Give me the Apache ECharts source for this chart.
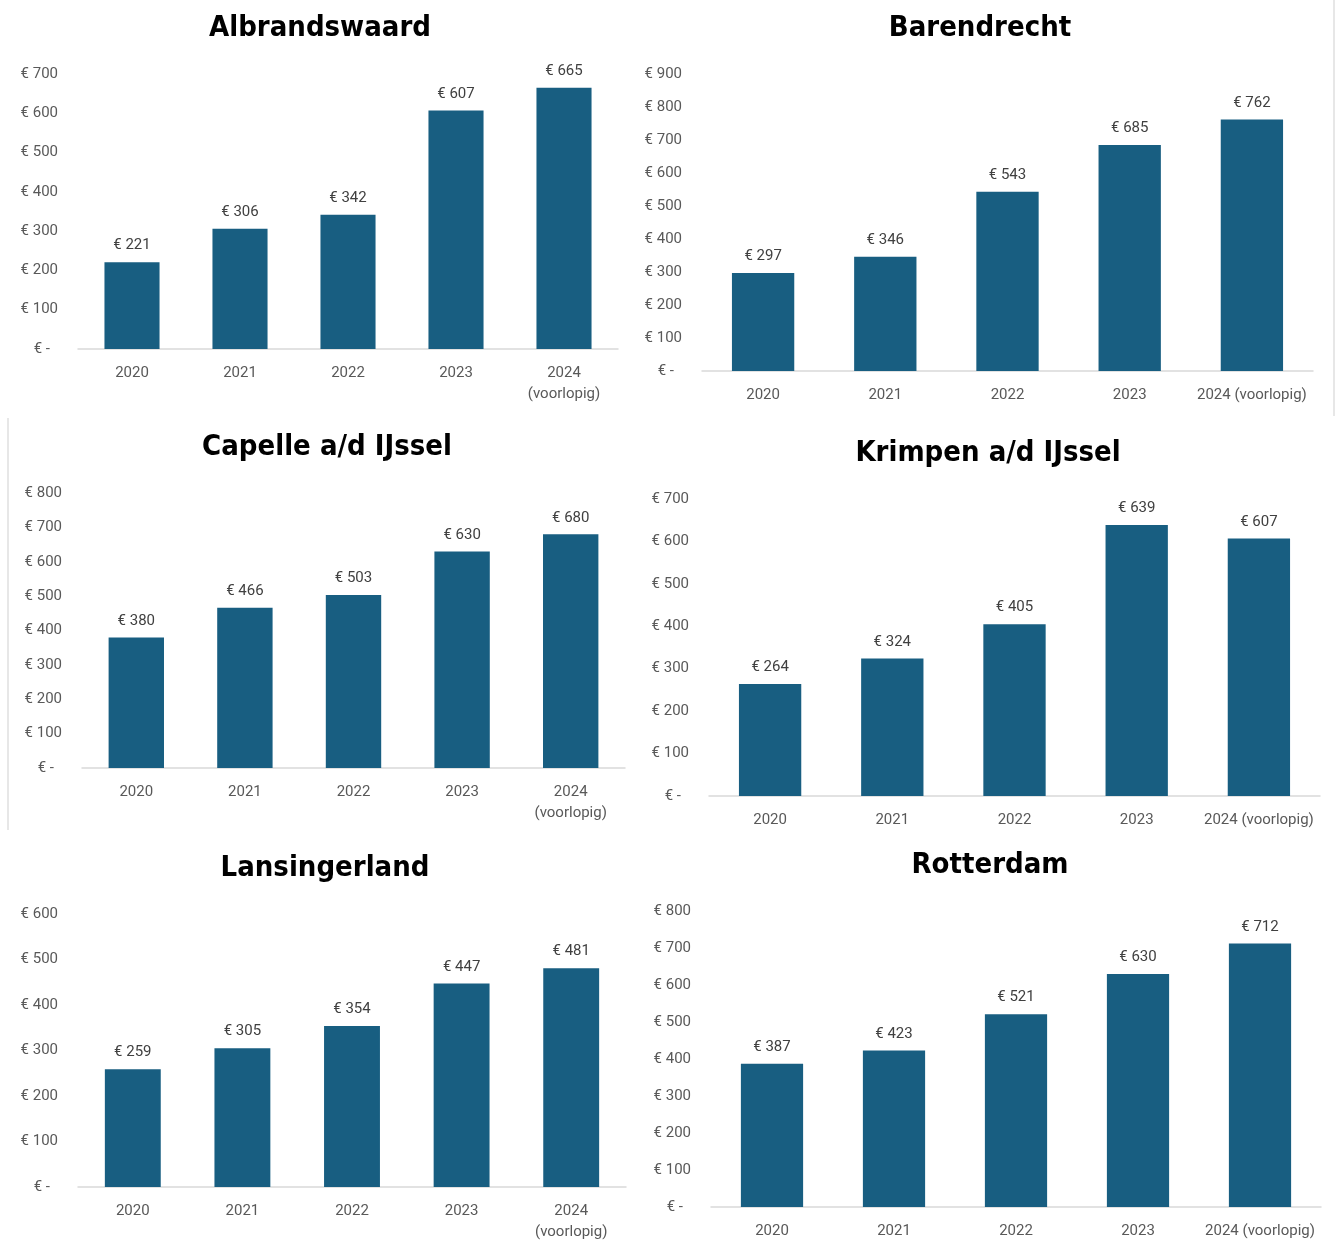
<!DOCTYPE html>
<html>
<head>
<meta charset="utf-8">
<script src="https://cdn.jsdelivr.net/npm/echarts@6/dist/echarts.min.js"></script>
<style>html,body{margin:0;padding:0;background:#fff;}#c{width:1336px;height:1243px;}</style>
</head>
<body>
<div id="c"></div>
<script>
const titles = ['Albrandswaard', 'Barendrecht', 'Capelle a/d IJssel', 'Krimpen a/d IJssel', 'Lansingerland', 'Rotterdam'];
const catsWrapped = ['2020', '2021', '2022', '2023', '2024\n(voorlopig)'];
const catsInline = ['2020', '2021', '2022', '2023', '2024 (voorlopig)'];
const albrandswaard = [221, 306, 342, 607, 665];
const barendrecht = [297, 346, 543, 685, 762];
const capelle = [380, 466, 503, 630, 680];
const krimpen = [264, 324, 405, 639, 607];
const lansingerland = [259, 305, 354, 447, 481];
const rotterdam = [387, 423, 521, 630, 712];
const axisMax = [700, 900, 800, 700, 600, 800];

const seriesData = [albrandswaard, barendrecht, capelle, krimpen, lansingerland, rotterdam];
const categorySets = [catsWrapped, catsInline, catsWrapped, catsInline, catsWrapped, catsInline];

// layout (pixels)
const grids = [
  {left: 78, top: 74, width: 540, height: 275},
  {left: 702, top: 74, width: 611, height: 297},
  {left: 82, top: 493, width: 543, height: 275},
  {left: 709, top: 499, width: 611, height: 297},
  {left: 78, top: 914, width: 548, height: 275},
  {left: 711, top: 911, width: 610, height: 296}
];
const titlePos = [[320, 28], [980, 28], [327, 447], [988, 453], [325, 868], [990, 865]];

const BAR = '#185e81';
const TXT = '#595959';
const FONT = 'Roboto, "Liberation Sans", sans-serif';

const euro = v => v === 0 ? '{z|€ -}' : '€ ' + v;

const option = {
  animation: false,
  backgroundColor: '#fff',
  grid: grids.map(g => Object.assign({containLabel: false}, g)),
  xAxis: grids.map((g, i) => ({
    type: 'category',
    gridIndex: i,
    data: categorySets[i],
    axisTick: {show: false},
    axisLine: {lineStyle: {color: '#d9d9d9', width: 1.5}},
    axisLabel: {color: TXT, fontSize: 15, fontFamily: FONT, margin: 14, lineHeight: 21, interval: 0}
  })),
  yAxis: grids.map((g, i) => ({
    type: 'value',
    gridIndex: i,
    min: 0,
    max: axisMax[i],
    interval: 100,
    splitLine: {show: false},
    axisLine: {show: false},
    axisTick: {show: false},
    axisLabel: {
      color: TXT, fontSize: 15, fontFamily: FONT, margin: 20,
      formatter: euro,
      rich: {z: {color: TXT, fontSize: 15, fontFamily: FONT, padding: [0, 8, 0, 0]}}
    }
  })),
  series: seriesData.map((d, i) => ({
    type: 'bar',
    xAxisIndex: i,
    yAxisIndex: i,
    data: d,
    barWidth: '51%',
    itemStyle: {color: BAR},
    label: {
      show: true, position: 'top', distance: 9,
      color: '#404040', fontSize: 15, fontFamily: FONT,
      formatter: p => '€ ' + p.value
    }
  })),
  graphic: titlePos.map((p, i) => ({
    type: 'text',
    x: p[0], y: p[1],
    style: {
      text: titles[i],
      textAlign: 'center', textVerticalAlign: 'middle',
      fill: '#000',
      font: 'bold 29px "Liberation Sans Narrow", "DejaVu Sans Condensed", sans-serif'
    }
  })).concat([
    {type: 'line', shape: {x1: 1334, y1: 0, x2: 1334, y2: 416}, style: {stroke: '#cfcfcf', lineWidth: 1}},
    {type: 'line', shape: {x1: 8, y1: 418, x2: 8, y2: 830}, style: {stroke: '#cfcfcf', lineWidth: 1}}
  ])
};

const chart = echarts.init(document.getElementById('c'));
chart.setOption(option);
</script>
</body>
</html>
